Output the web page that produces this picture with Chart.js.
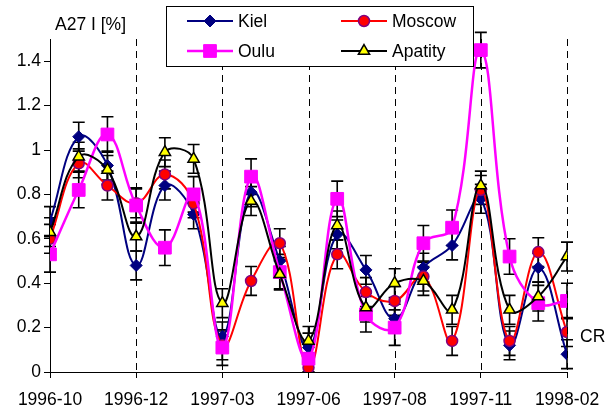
<!DOCTYPE html>
<html>
<head>
<meta charset="utf-8">
<script src="https://cdn.jsdelivr.net/npm/chart.js@4/dist/chart.umd.min.js"></script>
<style>
  body { margin: 0; background: #fff; }
  canvas { display: block; }
</style>
</head>
<body>
<canvas id="grafico" width="612" height="411"></canvas>
<script>
// Dados do gráfico (19 pontos, espaçados igualmente)
const tickLabels = ["1996-10", "1996-12", "1997-03", "1997-06", "1997-08", "1997-11", "1998-02"];
const kiel    = [0.68, 1.06, 0.93, 0.48, 0.84, 0.71, 0.16, 0.81, 0.50, 0.11, 0.62, 0.46, 0.24, 0.47, 0.57, 0.78, 0.12, 0.47, 0.08];
const moscow  = [0.60, 0.94, 0.84, 0.76, 0.89, 0.76, 0.12, 0.41, 0.58, 0.02, 0.53, 0.36, 0.32, 0.43, 0.14, 0.82, 0.14, 0.54, 0.18];
const oulu    = [0.53, 0.82, 1.07, 0.75, 0.56, 0.80, 0.11, 0.88, 0.45, 0.06, 0.78, 0.26, 0.20, 0.58, 0.65, 1.45, 0.52, 0.31, 0.32];
const apatity = [0.63, 0.97, 0.91, 0.61, 0.99, 0.96, 0.31, 0.77, 0.44, 0.14, 0.66, 0.29, 0.40, 0.41, 0.28, 0.84, 0.28, 0.34, 0.52];
// barras de erro (± por série)
const errKiel = 0.065, errMoscow = 0.065, errOulu = 0.08, errApatity = 0.065;

const FONT = "Liberation Sans, Arial, sans-serif";
const toXY = arr => arr.map((v, i) => ({ x: i, y: v }));

// barras de erro + linhas tracejadas verticais
const errorBars = {
    id: "errorBars",
    beforeDatasetsDraw(chart) {
        const { ctx, scales: { x, y }, chartArea } = chart;
        ctx.save();
        // linhas tracejadas nas datas
        ctx.strokeStyle = "#000";
        ctx.lineWidth = 1;
        ctx.setLineDash([7, 5]);
        for (let i = 1; i < tickLabels.length; i++) {
            const px = Math.round(x.getPixelForValue(i * 3)) + 0.5;
            ctx.beginPath();
            ctx.moveTo(px, chartArea.top);
            ctx.lineTo(px, chartArea.bottom);
            ctx.stroke();
        }
        ctx.setLineDash([]);
        ctx.lineWidth = 1.6;
        chart.data.datasets.forEach(ds => {
            ds.data.forEach(p => {
                const px = x.getPixelForValue(p.x);
                const top = y.getPixelForValue(p.y + ds.err);
                const bot = y.getPixelForValue(Math.max(0, p.y - ds.err));
                ctx.beginPath();
                ctx.moveTo(px, top); ctx.lineTo(px, bot);
                ctx.moveTo(px - 6, top); ctx.lineTo(px + 6, top);
                ctx.moveTo(px - 6, bot); ctx.lineTo(px + 6, bot);
                ctx.stroke();
            });
        });
        ctx.restore();
    }
};

// legenda, título do eixo e rótulo CR
const extras = {
    id: "extras",
    afterDraw(chart) {
        const { ctx, scales: { x, y } } = chart;
        ctx.save();
        ctx.font = "17.5px " + FONT;
        ctx.fillStyle = "#000";
        ctx.textBaseline = "middle";
        ctx.textAlign = "left";
        ctx.fillText("A27 I [%]", 55, 25);
        ctx.fillText("CR", x.getPixelForValue(18) + 13, y.getPixelForValue(0.155));

        // caixa da legenda
        ctx.fillStyle = "#fff";
        ctx.fillRect(166, 6, 307, 60);
        ctx.strokeStyle = "#000";
        ctx.lineWidth = 1;
        ctx.strokeRect(166.5, 6.5, 307, 60);
        const pos = [[187, 21], [341, 21], [187, 51], [341, 51]];
        chart.data.datasets.forEach((ds, i) => {
            const [lx, ly] = pos[i];
            ctx.strokeStyle = ds.borderColor;
            ctx.lineWidth = ds.borderWidth;
            ctx.beginPath();
            ctx.moveTo(lx, ly); ctx.lineTo(lx + 46, ly);
            ctx.stroke();
            ctx.fillStyle = ds.pointBackgroundColor;
            ctx.strokeStyle = ds.pointBorderColor;
            ctx.lineWidth = ds.pointBorderWidth;
            Chart.helpers.drawPoint(ctx, {
                pointStyle: ds.pointStyle, radius: ds.pointRadius,
                borderWidth: ds.pointBorderWidth, rotation: 0
            }, lx + 23, ly);
            ctx.fillStyle = "#000";
            ctx.fillText(ds.label, lx + 51, ly + 1);
        });
        ctx.restore();
    }
};

const ctx = document.getElementById("grafico").getContext("2d");
const grafico = new Chart(ctx, {
    type: "line",
    data: {
        datasets: [
            { label: "Kiel", data: toXY(kiel), err: errKiel, order: 4,
              borderColor: "#000080", borderWidth: 2,
              pointStyle: "rectRot", pointRadius: 6, pointBackgroundColor: "#000080",
              pointBorderColor: "#000080", pointBorderWidth: 1 },
            { label: "Moscow", data: toXY(moscow), err: errMoscow, order: 3,
              borderColor: "#ff0000", borderWidth: 2,
              pointStyle: "circle", pointRadius: 5.5, pointBackgroundColor: "#ff0000",
              pointBorderColor: "#800080", pointBorderWidth: 1.5 },
            { label: "Oulu", data: toXY(oulu), err: errOulu, order: 2,
              borderColor: "#ff00ff", borderWidth: 2.5,
              pointStyle: "rect", pointRadius: 9, pointBackgroundColor: "#ff00ff",
              pointBorderColor: "#ff00ff", pointBorderWidth: 1 },
            { label: "Apatity", data: toXY(apatity), err: errApatity, order: 1,
              borderColor: "#000000", borderWidth: 2,
              pointStyle: "triangle", pointRadius: 6.5, pointBackgroundColor: "#ffff00",
              pointBorderColor: "#000000", pointBorderWidth: 1.5 }
        ]
    },
    options: {
        responsive: false,
        animation: false,
        devicePixelRatio: 1,
        elements: { line: { tension: 0.4, fill: false } },
        layout: { padding: { top: 39, right: 45, left: 0, bottom: 0 } },
        plugins: { legend: { display: false }, tooltip: { enabled: false } },
        scales: {
            x: {
                type: "linear", min: 0, max: 18,
                afterFit: s => { s.height = 39; },
                grid: { drawOnChartArea: false, drawTicks: true, tickLength: 6, color: "#000" },
                border: { color: "#000", width: 1 },
                ticks: {
                    stepSize: 3, maxRotation: 0, padding: 12,
                    color: "#000", font: { family: FONT, size: 17.5 },
                    callback: v => tickLabels[v / 3]
                }
            },
            y: {
                min: 0, max: 1.5,
                afterFit: s => { s.width = 50; },
                afterBuildTicks: s => { s.ticks = s.ticks.filter(t => t.value <= 1.4001); },
                grid: { drawOnChartArea: false, drawTicks: true, tickLength: 6, color: "#000" },
                border: { color: "#000", width: 1 },
                ticks: {
                    stepSize: 0.2, padding: 3,
                    color: "#000", font: { family: FONT, size: 17.5 },
                    callback: v => String(Math.round(v * 10) / 10)
                }
            }
        }
    },
    plugins: [errorBars, extras]
});
</script>
</body>
</html>
